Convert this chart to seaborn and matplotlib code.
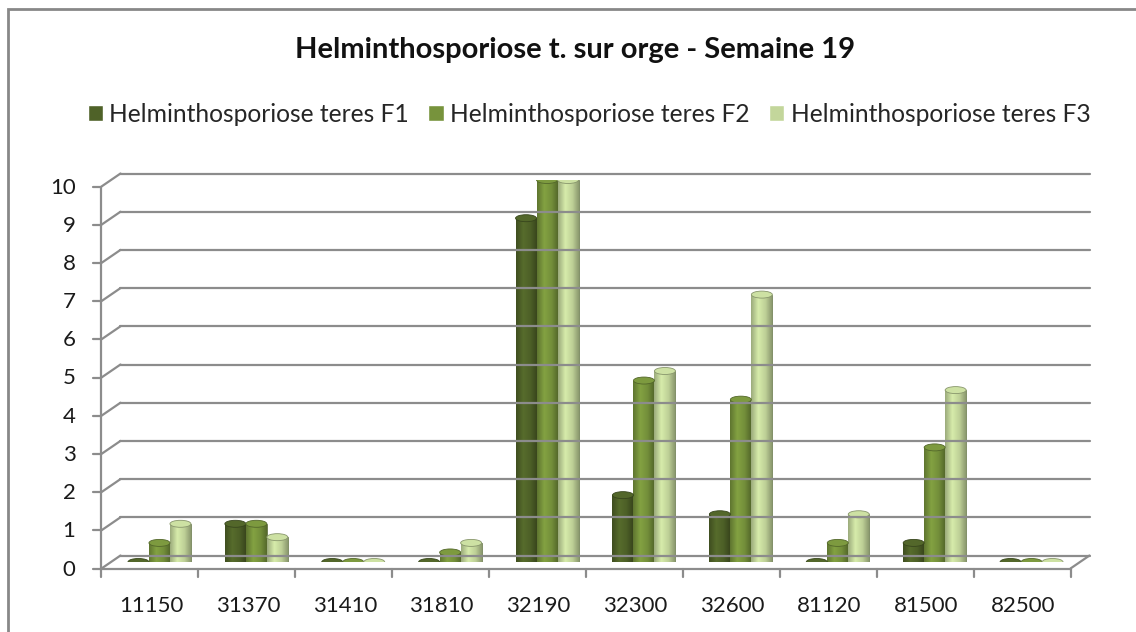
import matplotlib
matplotlib.use("Agg")
import matplotlib.pyplot as plt
import numpy as np
import pandas as pd
import seaborn as sns
from matplotlib.colors import LinearSegmentedColormap, to_rgb
from matplotlib.lines import Line2D
from matplotlib.patches import Ellipse, Rectangle

# data
stations = ["11150", "31370", "31410", "31810", "32190",
            "32300", "32600", "81120", "81500", "82500"]
f1 = [0, 1, 0, 0, 9, 1.75, 1.25, 0, 0.5, 0]
f2 = [0.5, 1, 0, 0.25, 10, 4.75, 4.25, 0.5, 3, 0]
f3 = [1, 0.65, 0, 0.5, 10, 5, 7, 1.25, 4.5, 0]
series = ["Helminthosporiose teres F1", "Helminthosporiose teres F2",
          "Helminthosporiose teres F3"]
colors = ["#4f6228", "#77933c", "#c3d69b"]
yticks = list(range(0, 11))

df = pd.DataFrame({"station": stations, series[0]: f1, series[1]: f2, series[2]: f3})
long = df.melt(id_vars="station", var_name="serie", value_name="valeur")

sns.set_theme(style="white")
plt.rcParams["font.family"] = ["Lato", "DejaVu Sans"]

W, H = 1136, 632
fig = plt.figure(figsize=(W / 100, H / 100), dpi=100)
ax = fig.add_axes([111 / W, 1 - 562 / H, 969 / W, 382 / H])

sns.barplot(data=long, x="station", y="valeur", hue="serie", palette=colors,
            width=0.65, saturation=1, ax=ax, legend=False, linewidth=0.4,
            edgecolor="#3a4a1c")
ax.set_xlim(-0.5, 9.5)
ax.set_ylim(0, 10)
for s in ax.spines.values():
    s.set_visible(False)
ax.set_xticks([])
ax.set_yticks([])
ax.set_xlabel("")
ax.set_ylabel("")
ax.patch.set_alpha(0)


def shade(col, k):
    r = np.clip(np.array(to_rgb(col)) * k, 0, 1)
    return tuple(r)


# cylinder look: horizontal gradient clipped to each bar, plus a top cap
ppx = 10 / 382  # data units per pixel in y
grad = np.linspace(0, 1, 64).reshape(1, -1)
bars = list(ax.patches)
for bar, col in zip(bars, np.repeat(colors, len(stations))):
    cx = bar.get_x() + bar.get_width() / 2
    h = bar.get_height()
    if h > 0:
        cmap = LinearSegmentedColormap.from_list(
            "cyl", [(0, shade(col, 0.8)), (0.35, shade(col, 1.1)),
                    (0.7, shade(col, 0.97)), (1, shade(col, 0.72))])
        im = ax.imshow(grad, extent=[bar.get_x(), bar.get_x() + bar.get_width(), 0, h],
                       cmap=cmap, aspect="auto", zorder=bar.get_zorder() + 0.1)
        im.set_clip_path(bar)
    cap = Ellipse((cx, h), bar.get_width(), 7 * ppx, facecolor=shade(col, 1.05),
                  edgecolor=shade(col, 0.7), linewidth=0.6, zorder=5)
    ax.add_patch(cap)
ax.set_xlim(-0.5, 9.5)
ax.set_ylim(0, 10)

# pseudo 3D walls and gridlines in display space
fig.canvas.draw()
tr = ax.transData
dx, dy = 9.5, 6.5
grid_col = "#8c8c8c"


def pt(x, y, depth):
    px, py = tr.transform((x, y))
    return px + depth * dx, py + depth * dy


def seg(p, q, lw=1.6):
    fig.add_artist(Line2D([p[0], q[0]], [p[1], q[1]], color=grid_col, lw=lw,
                          transform=None, zorder=0.5))


x0, x1 = ax.get_xlim()
for y in yticks:
    seg(pt(x0, y, 1), pt(x1, y, 1))
    seg(pt(x0, y, -1), pt(x0, y, 1))
    seg(pt(x0, y, -1), (pt(x0, y, -1)[0] - 8, pt(x0, y, -1)[1]))
    fig.text(pt(x0, y, -1)[0] - 26, pt(x0, y, -1)[1] - 1, str(y), transform=None,
             ha="right", va="center", fontsize=16, color="#1a1a1a")
seg(pt(x0, 0, -1), pt(x0, 10, -1))
seg(pt(x0, 0, -1), pt(x1, 0, -1))
seg(pt(x1, 0, -1), pt(x1, 0, 1))
for i in range(len(stations) + 1):
    p = pt(x0 + i, 0, -1)
    seg(p, (p[0], p[1] - 8))
for i, lab in enumerate(stations):
    p = pt(i, 0, -1)
    fig.text(p[0] + 1, p[1] - 37, lab, transform=None, ha="center",
             va="center", fontsize=16, color="#1a1a1a")

fig.text(575 / W, 1 - 50 / H, "Helminthosporiose t. sur orge - Semaine 19",
         ha="center", va="center", fontsize=21, fontweight="bold", color="#111111")
handles = [Rectangle((0, 0), 1, 1, facecolor=c) for c in colors]
fig.legend(handles, series, loc="center", bbox_to_anchor=(589 / W, 1 - 114 / H),
           ncol=3, frameon=False, fontsize=17.7, handlelength=0.62, handleheight=0.62,
           handletextpad=0.25, columnspacing=0.8)

fig.add_artist(Rectangle((8 / W, -0.05), 1.2, 1 - 9 / H + 0.05, transform=fig.transFigure,
                         fill=False, edgecolor="#888888", linewidth=2))

fig.savefig("out.png", dpi=100)
